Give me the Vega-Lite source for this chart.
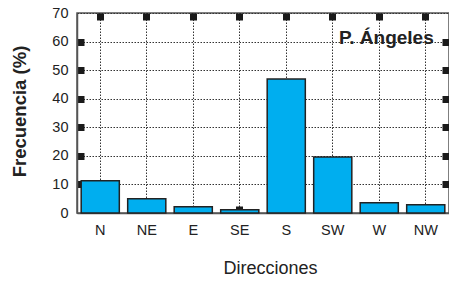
{
  "$schema": "https://vega.github.io/schema/vega-lite/v6.json",
  "width": 372,
  "height": 200,
  "autosize": {"type": "none"},
  "padding": {"left": 77, "top": 13, "right": 0, "bottom": 71},
  "background": "white",
  "config": {
    "font": "Liberation Sans",
    "view": {"stroke": "#555", "strokeWidth": 1.5},
    "axis": {
      "labelFont": "Liberation Sans",
      "titleFont": "Liberation Sans",
      "labelColor": "#222",
      "titleColor": "#222",
      "domainColor": "#555",
      "domainWidth": 1.5
    }
  },
  "data": {
    "values": [
      {"dir": "N", "freq": 11.3},
      {"dir": "NE", "freq": 5.0},
      {"dir": "E", "freq": 2.2},
      {"dir": "SE", "freq": 1.1},
      {"dir": "S", "freq": 46.9},
      {"dir": "SW", "freq": 19.6},
      {"dir": "W", "freq": 3.6},
      {"dir": "NW", "freq": 2.9}
    ]
  },
  "resolve": {"axis": {"x": "independent", "y": "independent"}},
  "layer": [
    {
      "mark": {"type": "bar", "fill": "#00AEEF", "stroke": "#222", "strokeWidth": 1.5},
      "encoding": {
        "x": {
          "field": "dir",
          "type": "nominal",
          "sort": ["N", "NE", "E", "SE", "S", "SW", "W", "NW"],
          "scale": {"domain": ["N", "NE", "E", "SE", "S", "SW", "W", "NW"], "paddingInner": 0.18, "paddingOuter": 0.09},
          "axis": {
            "orient": "bottom",
            "title": "Direcciones",
            "titleFontSize": 18,
            "titleFontWeight": "normal",
            "titleX": 193,
            "titleY": 55,
            "titleBaseline": "middle",
            "titleAnchor": null,
            "labelAngle": 0,
            "labelFontSize": 14.5,
            "labelPadding": 17,
            "bandPosition": 0.5,
            "grid": true,
            "gridColor": "#333",
            "gridDash": [1.5, 1.5],
            "gridWidth": 1,
            "ticks": true,
            "tickSize": -7,
            "tickWidth": 7,
            "tickColor": "#1a1a1a",
            "domain": true
          }
        },
        "y": {
          "field": "freq",
          "type": "quantitative",
          "scale": {"domain": [0, 70], "nice": false},
          "axis": {
            "orient": "left",
            "title": "Frecuencia (%)",
            "titleFontSize": 18.5,
            "titleFontWeight": "bold",
            "titleX": -58,
            "titleY": 98,
            "titleBaseline": "middle",
            "titleAnchor": null,
            "values": [0, 10, 20, 30, 40, 50, 60, 70],
            "labelFontSize": 14.5,
            "labelPadding": 16,
            "grid": true,
            "gridColor": "#333",
            "gridDash": [1.5, 1.5],
            "gridWidth": 1,
            "tickSize": -7,
            "tickWidth": 7,
            "tickColor": {"condition": {"test": "datum.value == 0 || datum.value == 70", "value": "transparent"}, "value": "#1a1a1a"}
          }
        }
      }
    },
    {
      "mark": {"type": "bar", "opacity": 0},
      "encoding": {
        "x": {
          "field": "dir",
          "type": "nominal",
          "sort": ["N", "NE", "E", "SE", "S", "SW", "W", "NW"],
          "scale": {"domain": ["N", "NE", "E", "SE", "S", "SW", "W", "NW"]},
          "axis": {
            "orient": "top",
            "title": null,
            "labels": false,
            "grid": false,
            "domain": false,
            "bandPosition": 0.5,
            "tickSize": -7,
            "tickWidth": 7,
            "tickColor": "#1a1a1a"
          }
        },
        "y": {
          "field": "freq",
          "type": "quantitative",
          "axis": {
            "orient": "right",
            "title": null,
            "labels": false,
            "grid": false,
            "domain": false,
            "values": [0, 10, 20, 30, 40, 50, 60, 70],
            "tickSize": -7,
            "tickWidth": 7,
            "tickColor": {"condition": {"test": "datum.value == 0 || datum.value == 70", "value": "transparent"}, "value": "#1a1a1a"}
          }
        }
      }
    },
    {
      "data": {"values": [{"dir": "NW", "freq": 60, "label": "P. Ángeles"}]},
      "mark": {"type": "text", "font": "Liberation Sans", "fontWeight": "bold", "fontSize": 19, "align": "right", "baseline": "alphabetic", "dx": 8, "dy": 2, "color": "#222"},
      "encoding": {
        "x": {"field": "dir", "type": "nominal", "sort": ["N", "NE", "E", "SE", "S", "SW", "W", "NW"], "scale": {"domain": ["N", "NE", "E", "SE", "S", "SW", "W", "NW"]}, "axis": null},
        "y": {"field": "freq", "type": "quantitative", "axis": null},
        "text": {"field": "label"}
      }
    }
  ]
}
